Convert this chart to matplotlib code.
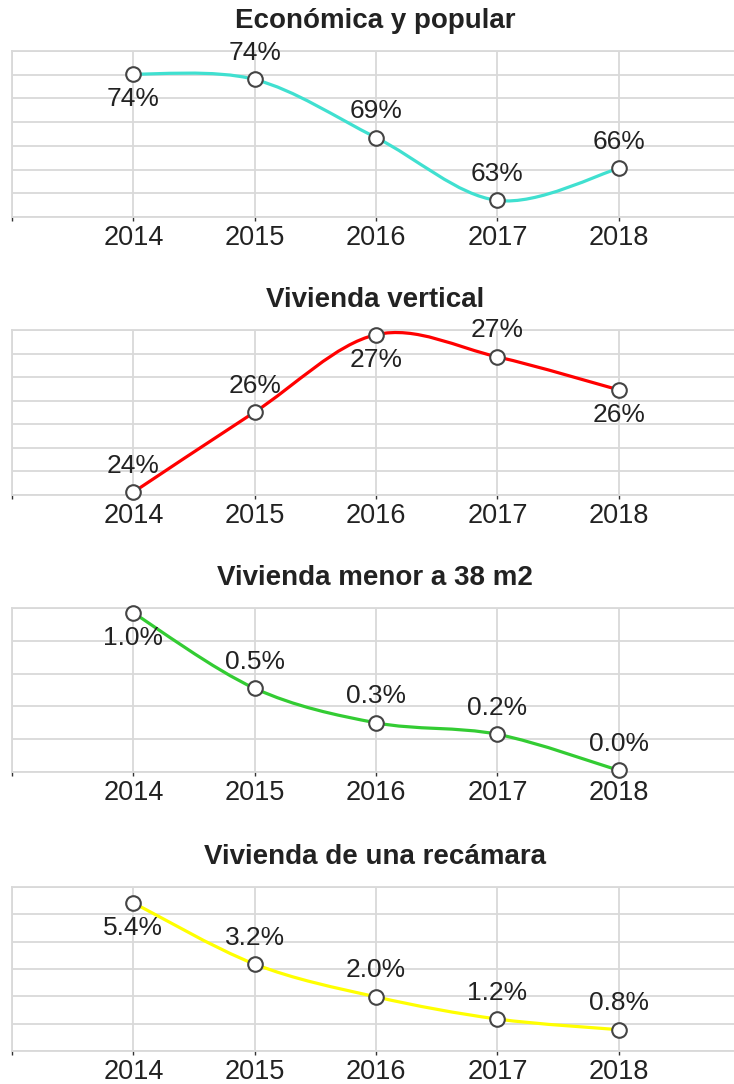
import numpy as np
import matplotlib
matplotlib.use('Agg')
import matplotlib.pyplot as plt
from matplotlib.path import Path
from matplotlib.patches import PathPatch

plt.rcParams['font.family'] = ['Liberation Sans', 'DejaVu Sans']

# -------- data --------
years = [2014, 2015, 2016, 2017, 2018]

titles = ['Económica y popular', 'Vivienda vertical',
          'Vivienda menor a 38 m2', 'Vivienda de una recámara']

economica = [74.06, 73.6, 68.7, 63.4, 66.1]
vertical = [24.06, 25.76, 27.40, 26.93, 26.23]
menor_38 = [0.97, 0.51, 0.30, 0.23, 0.01]
recamara = [5.42, 3.18, 1.98, 1.17, 0.78]

series = [economica, vertical, menor_38, recamara]
label_fmt = ['{:.0f}%', '{:.0f}%', '{:.1f}%', '{:.1f}%']

# horizontal gridlines (value axis) for each panel
y_grids = [np.arange(62, 76.1, 2), np.arange(24.0, 27.51, 0.5),
           np.arange(0, 1.01, 0.2), np.arange(0, 6.1, 1)]

# where the value label sits relative to the point
label_side = [['below', 'above', 'above', 'above', 'above'],
              ['above', 'above', 'below', 'above', 'below'],
              ['below', 'above', 'above', 'above', 'above'],
              ['below', 'above', 'above', 'above', 'above']]

colors = ['#40E0D0', '#FF0000', '#33CC33', '#FFFF00']

# -------- layout (pixels of a 734 x 1084 image) --------
W, H = 734, 1084
plot_left = 12
panel_px = [(51, 217), (330, 495), (608, 772), (887, 1051)]
grid_color = '#d9d9d9'
text_color = '#222222'


def smooth_path(xs, ys, t=1.0 / 6.0):
    """Catmull-Rom style cubic bezier through the points."""
    pts = np.column_stack([xs, ys]).astype(float)
    n = len(pts)
    verts = [pts[0]]
    codes = [Path.MOVETO]
    for i in range(n - 1):
        p_prev = pts[i - 1] if i > 0 else pts[i]
        p_next2 = pts[i + 2] if i + 2 < n else pts[i + 1]
        c1 = pts[i] + (pts[i + 1] - p_prev) * t
        c2 = pts[i + 1] - (p_next2 - pts[i]) * t
        verts += [c1, c2, pts[i + 1]]
        codes += [Path.CURVE4] * 3
    return Path(verts, codes)


fig = plt.figure(figsize=(W / 100, H / 100), dpi=100, facecolor='white')

for k, (top, bot) in enumerate(panel_px):
    ax = fig.add_axes([plot_left / W, 1 - bot / H, (W - plot_left) / W, (bot - top) / H])
    vals = series[k]
    grid = y_grids[k]

    ax.set_xlim(2013, 2018.95)
    ax.set_ylim(grid[0], grid[-1])

    ax.set_xticks([2013] + years)
    ax.set_xticklabels([''] + [str(y) for y in years])
    ax.set_yticks(grid)
    ax.set_yticklabels([])
    ax.tick_params(axis='y', length=0)
    ax.tick_params(axis='x', length=3, width=1, color='#333333', pad=3,
                   labelsize=19.5, labelcolor=text_color)
    ax.grid(True, color=grid_color, linewidth=1.3)
    ax.set_axisbelow(True)
    for side in ['top', 'bottom', 'left']:
        ax.spines[side].set_color(grid_color)
        ax.spines[side].set_linewidth(1.3)
    ax.spines['right'].set_visible(False)

    patch = PathPatch(smooth_path(years, vals), facecolor='none',
                      edgecolor=colors[k], linewidth=2.3, zorder=3,
                      capstyle='round', joinstyle='round')
    ax.add_patch(patch)
    ax.plot(years, vals, linestyle='none', marker='o', markersize=10.5,
            markerfacecolor='white', markeredgecolor='#444444',
            markeredgewidth=1.5, zorder=4, clip_on=False)

    for x, v, side in zip(years, vals, label_side[k]):
        dy = 19 if side == 'above' else -18
        ax.annotate(label_fmt[k].format(v), (x, v), xytext=(0, dy),
                    textcoords='offset points', ha='center', va='center',
                    fontsize=19, color=text_color, zorder=5)

    fig.text(375 / W, 1 - (top - 30) / H, titles[k], ha='center', va='center',
             fontsize=20, fontweight='bold', color=text_color)

fig.savefig('out.png', dpi=100, facecolor='white')
